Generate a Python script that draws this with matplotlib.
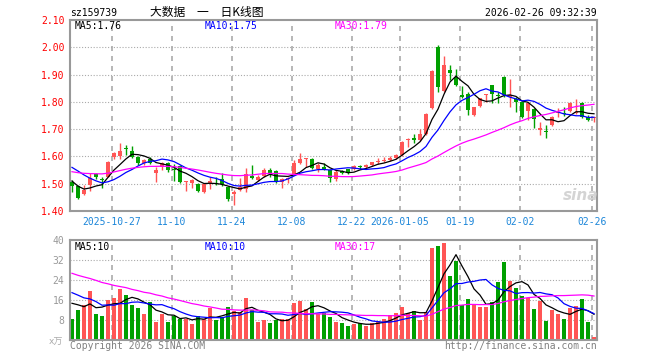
import numpy as np
import pandas as pd
import matplotlib
matplotlib.use("Agg")
import matplotlib.pyplot as plt

plt.rcParams['font.family'] = ['DejaVu Sans Mono', 'Noto Sans CJK SC']

# daily candles, 2025-10-16 .. 2026-02-26 (88 trading days)
opens = [1.507, 1.492, 1.462, 1.495, 1.534, 1.519, 1.526, 1.599, 1.601, 1.630,
         1.621, 1.599, 1.575, 1.589, 1.538, 1.560, 1.577, 1.553, 1.566, 1.506,
         1.504, 1.499, 1.468, 1.501, 1.508, 1.516, 1.489, 1.462, 1.477, 1.480,
         1.530, 1.515, 1.528, 1.550, 1.547, 1.507, 1.519, 1.534, 1.575, 1.590,
         1.589, 1.553, 1.560, 1.550, 1.517, 1.547, 1.553, 1.555, 1.564, 1.560,
         1.569, 1.578, 1.584, 1.588, 1.593, 1.605, 1.662, 1.666, 1.660, 1.682,
         1.776, 2.000, 1.840, 1.917, 1.892, 1.825, 1.829, 1.752, 1.785, 1.824,
         1.862, 1.825, 1.890, 1.819, 1.810, 1.800, 1.768, 1.774, 1.697, 1.693,
         1.717, 1.759, 1.760, 1.768, 1.760, 1.795, 1.746, 1.742]
highs = [1.512, 1.495, 1.494, 1.538, 1.540, 1.523, 1.582, 1.615, 1.650, 1.642,
         1.639, 1.600, 1.590, 1.599, 1.562, 1.581, 1.580, 1.571, 1.570, 1.510,
         1.516, 1.501, 1.501, 1.523, 1.523, 1.540, 1.492, 1.477, 1.520, 1.556,
         1.569, 1.532, 1.556, 1.556, 1.550, 1.520, 1.526, 1.587, 1.612, 1.595,
         1.593, 1.575, 1.575, 1.553, 1.550, 1.552, 1.555, 1.568, 1.570, 1.572,
         1.581, 1.593, 1.599, 1.603, 1.609, 1.658, 1.667, 1.682, 1.700, 1.760,
         1.917, 2.008, 1.968, 1.935, 1.919, 1.858, 1.837, 1.782, 1.815, 1.829,
         1.862, 1.837, 1.893, 1.883, 1.819, 1.804, 1.800, 1.776, 1.728, 1.714,
         1.749, 1.776, 1.782, 1.798, 1.812, 1.800, 1.752, 1.746]
lows = [1.471, 1.443, 1.459, 1.473, 1.516, 1.483, 1.523, 1.589, 1.592, 1.605,
        1.595, 1.569, 1.569, 1.571, 1.507, 1.550, 1.544, 1.511, 1.504, 1.475,
        1.483, 1.471, 1.465, 1.479, 1.495, 1.492, 1.438, 1.422, 1.473, 1.471,
        1.516, 1.510, 1.523, 1.523, 1.504, 1.486, 1.501, 1.532, 1.572, 1.562,
        1.553, 1.544, 1.550, 1.508, 1.510, 1.536, 1.537, 1.550, 1.555, 1.557,
        1.564, 1.573, 1.578, 1.582, 1.589, 1.602, 1.636, 1.648, 1.657, 1.678,
        1.773, 1.837, 1.837, 1.880, 1.858, 1.815, 1.752, 1.748, 1.780, 1.800,
        1.795, 1.795, 1.819, 1.782, 1.762, 1.740, 1.733, 1.706, 1.678, 1.666,
        1.712, 1.745, 1.750, 1.764, 1.757, 1.740, 1.730, 1.727]
closes = [1.492, 1.446, 1.477, 1.520, 1.523, 1.515, 1.581, 1.611, 1.621, 1.627,
          1.599, 1.575, 1.587, 1.577, 1.550, 1.575, 1.550, 1.550, 1.507, 1.509,
          1.514, 1.475, 1.499, 1.511, 1.505, 1.498, 1.444, 1.471, 1.487, 1.537,
          1.521, 1.526, 1.550, 1.540, 1.507, 1.516, 1.521, 1.577, 1.589, 1.592,
          1.556, 1.569, 1.555, 1.520, 1.544, 1.540, 1.543, 1.565, 1.561, 1.569,
          1.578, 1.584, 1.587, 1.593, 1.605, 1.654, 1.665, 1.662, 1.682, 1.755,
          1.914, 1.853, 1.935, 1.907, 1.862, 1.819, 1.770, 1.780, 1.813, 1.827,
          1.828, 1.822, 1.825, 1.825, 1.800, 1.745, 1.797, 1.736, 1.703, 1.690,
          1.746, 1.761, 1.755, 1.795, 1.762, 1.746, 1.733, 1.746]
# volume in 万
volumes = [8.4, 12.0, 14.2, 19.6, 10.4, 9.6, 16.0, 16.9, 20.4, 18.0,
           14.0, 12.9, 10.4, 15.2, 7.2, 10.4, 7.2, 9.6, 8.5, 8.6,
           6.4, 9.6, 8.5, 12.9, 8.0, 9.3, 13.3, 11.8, 11.4, 16.9,
           12.0, 7.3, 8.0, 6.9, 8.0, 8.3, 8.3, 14.9, 15.7, 12.4,
           15.2, 10.4, 10.7, 9.4, 7.3, 6.9, 5.7, 6.5, 6.7, 5.7,
           6.9, 7.6, 8.4, 10.1, 10.9, 13.3, 10.7, 11.6, 8.0, 11.1,
           36.7, 37.7, 38.9, 25.7, 31.7, 14.0, 16.4, 14.4, 13.3, 13.3,
           15.3, 23.3, 31.3, 23.7, 20.7, 17.7, 16.7, 12.4, 15.7, 7.7,
           12.0, 10.3, 8.4, 12.9, 13.6, 16.4, 7.3, 1.3]

# earlier days (off chart), only needed so the moving averages start right
prev_closes = [1.55, 1.55, 1.55, 1.54, 1.53, 1.50, 1.48, 1.47, 1.48, 1.48,
               1.49, 1.52, 1.53, 1.55, 1.56, 1.57, 1.58, 1.59, 1.60, 1.601,
               1.58, 1.62, 1.64, 1.62, 1.59, 1.54, 1.53, 1.50, 1.487]
prev_volumes = [36, 34, 38, 33, 35, 32, 36, 34, 31, 35,
                28, 30, 26, 27, 25, 29, 24, 26, 27, 25,
                22, 25, 24, 21, 24, 15, 18, 14, 18]

date_idx = [7, 17, 27, 37, 47, 55, 65, 75, 87]
date_labels = ['2025-10-27', '11-10', '11-24', '12-08', '12-22',
               '2026-01-05', '01-19', '02-02', '02-26']
price_ticks = [1.40, 1.50, 1.60, 1.70, 1.80, 1.90, 2.00, 2.10]
vol_ticks = [8, 16, 24, 32, 40]
price_ma_text = ['MA5:1.76', 'MA10:1.75', 'MA30:1.79']
vol_ma_text = ['MA5:10', 'MA10:10', 'MA30:17']

RED = '#ff5555'
GREEN = '#00a000'
GRID = '#aaaaaa'
ma_colors = ['black', '#0000ff', '#ff00ff']


def moving_avgs(prev, vals):
    s = pd.Series(list(prev) + list(vals))
    return [s.rolling(n).mean().values[len(prev):] for n in (5, 10, 30)]


W, H = 660, 360
fig = plt.figure(figsize=(W / 100, H / 100), dpi=100)
ax = fig.add_axes([70 / W, 1 - 211 / H, 527 / W, 191 / H])
axv = fig.add_axes([70 / W, 1 - 340 / H, 527 / W, 100 / H])

x = np.arange(len(closes))
o = np.array(opens)
c = np.array(closes)
cols = [RED if c[i] >= o[i] else GREEN for i in range(len(c))]
grid_x = [i - 0.33 for i in date_idx]

# price panel
for p in price_ticks[1:-1]:
    ax.axhline(p, color=GRID, lw=0.8, ls=(0, (1, 1.6)), zorder=0)
for gx in grid_x:
    ax.axvline(gx, color=GRID, lw=1.2, ls=(0, (3, 3)), zorder=0)

ax.vlines(x, lows, highs, colors=cols, lw=1, zorder=2)
body = np.maximum(np.abs(c - o), 0.003)
ax.bar(x, body, bottom=np.minimum(o, c), width=0.8, color=cols, lw=0, zorder=3)

for ma, col in zip(moving_avgs(prev_closes, closes), ma_colors):
    ax.plot(x, ma, color=col, lw=0.9, zorder=4)

ax.set_xlim(-0.33, 87.5)
ax.set_ylim(1.40, 2.10)
ax.set_yticks(price_ticks)
ax.set_yticklabels(['%.2f' % p for p in price_ticks], color='#ff0000', fontsize=7)
ax.set_xticks(grid_x)
ax.set_xticklabels(date_labels, color='#1c86d9', fontsize=7)
ax.tick_params(axis='both', length=0)
ax.tick_params(axis='y', pad=4)
ax.tick_params(axis='x', pad=4)

# volume panel
for v in vol_ticks[:-1]:
    axv.axhline(v, color=GRID, lw=0.8, ls=(0, (1, 1.6)), zorder=0)
for gx in grid_x:
    axv.axvline(gx, color=GRID, lw=1.2, ls=(0, (3, 3)), zorder=0)

axv.bar(x, volumes, width=0.8, color=cols, lw=0, zorder=2)
for ma, col in zip(moving_avgs(prev_volumes, volumes), ma_colors):
    axv.plot(x, ma, color=col, lw=0.9, zorder=4)

axv.set_xlim(-0.33, 87.5)
axv.set_ylim(0, 40)
axv.set_yticks(vol_ticks)
axv.set_yticklabels([str(v) for v in vol_ticks], color='#999999', fontsize=7)
axv.set_xticks([])
axv.tick_params(axis='both', length=0)
axv.tick_params(axis='y', pad=4)

for a in (ax, axv):
    for sp in a.spines.values():
        sp.set_color('#999999')
        sp.set_linewidth(1.5)


def ftext(px, py, s, **kw):
    fig.text(px / W, 1 - py / H, s, va='center', **kw)


# header
ftext(70, 13, 'sz159739', fontsize=7, color='black')
ftext(150, 12, '大数据\u3000一\u3000日K线图', fontsize=8.5, color='black',
      family=['Noto Sans CJK SC', 'DejaVu Sans'])
ftext(597, 13, '2026-02-26 09:32:39', fontsize=7, color='black', ha='right')

for tx, s, col in zip([75, 205, 335], price_ma_text, ma_colors):
    ftext(tx, 26, s, fontsize=7, color=col)
for tx, s, col in zip([75, 205, 335], vol_ma_text, ma_colors):
    ftext(tx, 247, s, fontsize=7, color=col)

# watermark and footer
ftext(581, 196, 'sina', fontsize=11, color='#d4d4d4', ha='center',
      style='italic', weight='bold', family='DejaVu Sans')
ftext(49, 342, 'x万', fontsize=6.5, color='#aaaaaa',
      family=['DejaVu Sans', 'Noto Sans CJK SC'])
ftext(70, 346, 'Copyright 2026 SINA.COM', fontsize=7, color='#808080')
ftext(597, 346, 'http://finance.sina.com.cn', fontsize=7, color='#808080', ha='right')

fig.savefig('out.png', dpi=100)
